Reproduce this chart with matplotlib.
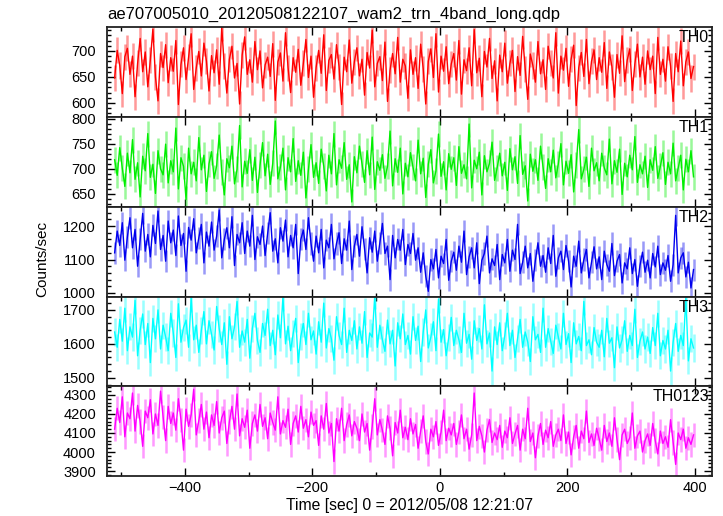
import numpy as np
import matplotlib
matplotlib.use("Agg")
import matplotlib.pyplot as plt
from matplotlib.ticker import MultipleLocator

plt.rcParams['font.family'] = ['Liberation Sans', 'DejaVu Sans']

# time bins (sec), 4 s bins starting at -510
t_start = -510
bin_size = 4

th0 = [648,701,672,618,689,705,655,690,612,676,724,660,698,631,683,742,650,604,695,
       668,712,639,687,661,720,597,674,706,645,688,733,626,667,699,652,715,680,623,
       691,658,702,636,745,671,619,684,709,648,676,598,692,727,655,683,640,718,664,
       700,629,673,688,651,714,605,679,696,642,735,668,620,687,659,703,634,676,722,
       649,690,611,668,701,657,731,624,682,693,646,712,670,597,688,660,721,638,679,
       706,652,684,615,697,667,740,631,676,689,643,717,603,663,695,656,726,640,684,
       671,609,702,655,687,628,713,666,598,680,704,649,733,621,690,661,708,637,675,
       695,644,720,617,683,662,706,633,741,658,686,612,699,669,724,647,681,604,692,
       660,715,638,676,701,622,689,653,728,665,607,694,672,640,718,656,683,626,709,
       676,648,735,619,690,663,705,632,684,711,595,668,697,651,722,637,680,702,645,
       687,659,716,628,698,670,611,693,657,729,641,682,704,624,675,713,650,688,636,
       700,664,690,618,726,655,684,642,708,671,603,695,660,719,633,679,698,647,670]

th1 = [718,687,742,701,665,731,692,758,679,712,644,725,696,770,683,709,651,736,700,
       688,749,672,716,694,781,660,722,705,639,741,690,713,676,762,698,727,655,710,
       734,681,706,767,693,648,720,702,745,670,699,786,664,715,691,738,677,723,653,
       707,752,686,729,669,711,795,680,703,741,658,722,694,760,675,716,687,733,642,
       699,748,683,712,671,739,705,656,727,690,770,668,718,701,752,679,708,634,724,
       692,745,710,673,736,688,763,659,714,697,728,681,705,775,666,720,693,741,650,
       711,684,732,703,676,757,690,721,643,709,738,672,696,769,685,714,658,730,699,
       722,667,744,691,708,680,789,662,717,700,733,648,726,694,711,753,677,702,731,
       686,713,657,740,698,724,671,766,689,706,636,729,695,718,677,745,703,661,720,
       694,737,682,710,750,668,715,691,728,654,707,778,680,699,723,665,741,696,712,
       676,731,702,688,759,670,716,693,739,649,711,684,727,698,764,673,708,690,725,
       663,718,697,744,681,705,732,669,713,690,751,676,702,727,658,719,694,736,684]

th2 = [1120,1185,1142,1210,1098,1168,1225,1135,1190,1080,1160,1238,1125,1175,1108,1202,1148,1245,1130,
       1172,1095,1215,1150,1188,1112,1230,1142,1178,1065,1196,1158,1222,1120,1165,1205,1090,1182,1140,
       1212,1128,1170,1248,1105,1160,1195,1135,1228,1082,1175,1150,1210,1118,1185,1140,1232,1100,1168,
       1145,1200,1112,1178,1240,1125,1162,1090,1195,1155,1218,1108,1172,1135,1205,1058,1160,1188,1130,
       1225,1148,1095,1170,1120,1190,1075,1158,1135,1205,1102,1148,1180,1088,1162,1128,1215,1070,1140,
       1175,1110,1198,1132,1060,1165,1122,1185,1095,1150,1208,1118,1140,1040,1172,1105,1160,1128,1190,
       1085,1145,1118,1178,1098,1135,1062,1120,1050,1005,1100,1072,1130,1045,1110,1088,1160,1038,1095,
       1122,1068,1140,1092,1185,1055,1108,1135,1075,1150,1028,1098,1118,1170,1060,1102,1082,1145,1040,
       1115,1090,1160,1065,1128,1100,1205,1058,1092,1140,1075,1118,1035,1098,1150,1080,1112,1062,1135,
       1088,1172,1050,1105,1125,1070,1142,1095,1018,1110,1080,1155,1060,1100,1130,1045,1092,1138,1072,
       1108,1040,1125,1085,1065,1148,1052,1095,1115,1030,1090,1072,1135,1058,1100,1020,1082,1122,1062,
       1098,1045,1118,1078,1140,1055,1090,1068,1112,1035,1085,1232,1060,1105,1120,1048,1092,1015,1070]

th3 = [1635,1590,1672,1608,1705,1580,1650,1620,1728,1565,1640,1688,1598,1660,1545,1675,1615,1700,1585,
       1655,1620,1580,1690,1632,1560,1718,1605,1648,1670,1590,1735,1612,1655,1575,1640,1695,1600,1668,
       1628,1582,1710,1645,1598,1662,1540,1680,1615,1650,1725,1590,1638,1605,1672,1558,1645,1690,1610,
       1575,1660,1625,1702,1595,1640,1568,1685,1618,1738,1600,1652,1580,1630,1675,1545,1622,1660,1598,
       1690,1612,1638,1570,1665,1605,1720,1588,1645,1615,1552,1680,1625,1598,1705,1575,1640,1610,1668,
       1585,1650,1602,1695,1560,1632,1620,1742,1590,1655,1612,1578,1670,1600,1640,1535,1662,1615,1688,
       1598,1625,1570,1680,1610,1652,1548,1635,1700,1588,1620,1665,1580,1732,1605,1642,1565,1618,1678,
       1595,1640,1612,1575,1690,1602,1628,1555,1668,1610,1645,1585,1715,1600,1632,1520,1650,1598,1662,
       1580,1625,1690,1595,1640,1560,1615,1672,1590,1635,1605,1548,1680,1612,1628,1575,1705,1590,1645,
       1608,1572,1655,1620,1585,1690,1598,1630,1545,1662,1600,1622,1580,1725,1595,1612,1568,1648,1605,
       1590,1640,1562,1675,1602,1618,1530,1650,1588,1612,1668,1578,1625,1595,1702,1560,1608,1635,1585,
       1620,1572,1648,1595,1690,1565,1610,1585,1640,1520,1605,1660,1578,1625,1595,1735,1550,1615,1588]

th0123 = [4120,4230,4155,4290,4080,4205,4175,4310,4110,4245,4160,4030,4215,4180,4275,4095,4200,4140,4320,
          4185,4060,4240,4150,4205,4115,4280,4170,4010,4225,4135,4195,4330,4090,4165,4250,4120,4210,4075,
          4195,4140,4265,4100,4180,4215,4045,4160,4240,4120,4305,4085,4175,4130,4220,4020,4150,4195,4110,
          4250,4135,4180,4070,4205,4155,4115,4290,4095,4165,4130,4225,4040,4150,4190,4105,4240,4125,4170,
          4080,4210,4140,4165,4035,4190,4120,4255,4100,4150,3950,4175,4110,4230,4060,4145,4195,4085,4160,
          4125,4060,4200,4105,4150,4010,4135,4280,4090,4170,4115,4040,4190,4125,3980,4155,4100,4220,4075,
          4130,4065,4175,4095,4145,4020,4110,4190,4055,3990,4120,4080,4160,4035,4105,4220,4060,4125,4090,
          4150,4040,4105,4195,4070,4120,4015,4090,4310,4060,4135,4085,4000,4115,4170,4050,4100,4065,4140,
          4025,4110,4075,4180,4045,4095,4140,4010,4120,4070,4230,4055,4100,3970,4085,4150,4040,4115,4075,
          4160,4030,4090,4120,4060,4195,4045,4105,3985,4080,4140,4020,4110,4070,4215,4050,4095,4035,4125,
          4070,4010,4140,4055,4100,4030,4180,4065,3960,4090,4120,4045,4075,4205,4020,4085,4110,4000,4060,
          4095,4035,4150,4060,3990,4110,4045,4080,4025,4170,4050,3935,4100,4065,4120,4020,4075,4040,4090]

series = [th0, th1, th2, th3, th0123]
names = ["TH0", "TH1", "TH2", "TH3", "TH0123"]
errors = [25, 26, 33, 40, 64]
colors = ["#ff0000", "#00ee00", "#0000ee", "#00ffff", "#ff00ff"]
ylims = [(573, 746), (624, 803), (988, 1257), (1476, 1738), (3874, 4347)]
ymajor = [50, 50, 100, 100, 100]
yminor = [10, 10, 20, 20, 20]

W, H = 723, 516
fig = plt.figure(figsize=(W / 100, H / 100), dpi=100)

left, right = 107, 712
tops = [27, 117, 207, 297, 386]
bottoms = [117, 207, 297, 386, 476]

axes = []
for i in range(5):
    ax = fig.add_axes([left / W, 1 - bottoms[i] / H, (right - left) / W, (bottoms[i] - tops[i]) / H])
    y = np.array(series[i])
    t = t_start + bin_size * np.arange(len(y))
    ax.errorbar(t, y, yerr=errors[i], fmt='none', ecolor=colors[i], alpha=0.4, elinewidth=1.8)
    ax.plot(t, y, color=colors[i], lw=1.0)
    ax.set_xlim(-522, 427)
    ax.set_ylim(*ylims[i])
    ax.xaxis.set_major_locator(MultipleLocator(200))
    ax.xaxis.set_minor_locator(MultipleLocator(100))
    ax.yaxis.set_major_locator(MultipleLocator(ymajor[i]))
    ax.yaxis.set_minor_locator(MultipleLocator(yminor[i]))
    ax.tick_params(which='both', direction='in', top=True, right=True, labelsize=10.5, width=1)
    ax.tick_params(which='major', length=6)
    ax.tick_params(which='minor', length=3)
    ax.tick_params(axis='y', which='major', pad=8)
    for s in ax.spines.values():
        s.set_linewidth(1.3)
        s.set_color('#222222')
    if i < 4:
        ax.tick_params(labelbottom=False)
    ax.text(0.995, 0.965, names[i], transform=ax.transAxes, ha='right', va='top', fontsize=11.5)
    axes.append(ax)

axes[-1].set_xlabel("Time [sec] 0 = 2012/05/08 12:21:07", fontsize=11.3, labelpad=2)
fig.text(42 / W, 1 - 259 / H, "Counts/sec", rotation=90, ha='center', va='center', fontsize=11)
fig.text(107 / W, 1 - 14 / H, "ae707005010_20120508122107_wam2_trn_4band_long.qdp",
         ha='left', va='center', fontsize=12)

fig.savefig("out.png", dpi=100)
